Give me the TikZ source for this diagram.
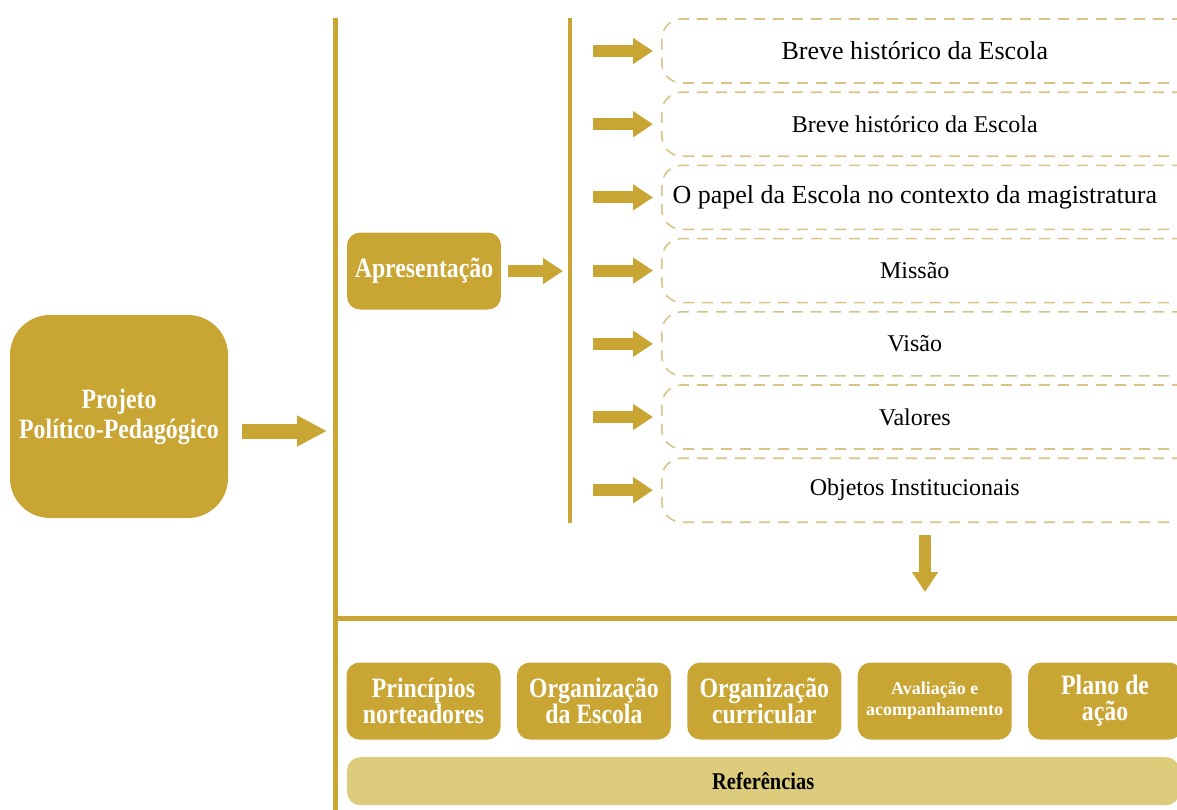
\documentclass[tikz,border=0pt]{standalone}
\usepackage{fontspec}
\setmainfont{Liberation Serif}
\newfontfamily\narrowbf{Liberation Serif}[FakeStretch=0.85]
\usetikzlibrary{arrows.meta,positioning,calc}
\definecolor{gold}{HTML}{C9A634}
\definecolor{lightgold}{HTML}{DDCB7C}
\definecolor{dashgold}{HTML}{D9C387}
\tikzset{
	goldbox/.style={fill=gold, rounded corners=13pt, text=white, align=center, inner sep=0pt,
			font=\narrowbf\bfseries\fontsize{28}{26}\selectfont, minimum width=154pt, minimum height=77pt},
	topic/.style={draw=dashgold, line width=1.6pt, dash pattern=on 11pt off 8pt, rounded corners=20pt,
			minimum width=560pt, minimum height=64pt, anchor=west},
	smallarrow/.style={draw=gold, line width=12pt, -{Triangle[length=20pt, width=25pt]}},
	bigarrow/.style={draw=gold, line width=15pt, -{Triangle[length=30pt, width=29pt]}},
	bar/.style={draw=gold, line width=5pt}
}
\begin{document}
\begin{tikzpicture}[x=1pt, y=-1pt]
	\useasboundingbox (0,0) rectangle (1177,809);
	\clip (0,0) rectangle (1177,809);

	\node[goldbox, minimum width=218pt, minimum height=203pt, rounded corners=40pt, font=\narrowbf\bfseries\fontsize{28}{30}\selectfont] (ppp) at (119,416.5) {Projeto\\Político-Pedagógico};
	\coordinate (l1top) at (335,18);
	\coordinate (l1bot) at (335,812);
	\coordinate (l2top) at (570,18);
	\coordinate (l2bot) at (570,523);
	\draw[bar] (l1top) -- (l1bot);
	\draw[bar, line width=4pt] (l2top) -- (l2bot);

	\coordinate (ppin) at (327,431);
	\draw[bigarrow] ($(ppp.east |- ppin)+(14,0)$) -- (ppin);

	\node[goldbox] (apres) at (424,271) {Apresentação};
	\coordinate (apin) at (563,271);
	\draw[smallarrow] ($(apres.east)+(7,0)$) -- (apin);

	\foreach \s/\t [count=\i] in {26/Breve histórico da Escola, 24/Breve histórico da Escola, 26/O papel da Escola no contexto da magistratura, 24/Missão, 24/Visão, 24/Valores, 24/Objetos Institucionais}{
		\node[topic, label={[font=\fontsize{\s}{\s}\selectfont, xshift=-27pt]center:\t}] (top\i) at (661,{51+73.2*(\i-1)}) {};
		\draw[smallarrow] ($(l2top |- top\i.west)+(23,0)$) -- ($(top\i.west)+(-8,0)$);
	}

	\coordinate (dn) at (925,592);
	\draw[smallarrow] ($(top7.south -| dn)+(0,12)$) -- (dn);
	\coordinate (hl) at (1180,618);
	\draw[bar] (l1top |- hl) -- (hl);

	\node[goldbox] (princ) at (423.5,701) {Princípios\\norteadores};
	\node[goldbox, right=16pt of princ] (orgesc) {Organização\\da Escola};
	\node[goldbox, right=16pt of orgesc] (orgcur) {Organização\\curricular};
	\node[goldbox, right=16pt of orgcur, font=\bfseries\fontsize{18}{21}\selectfont] (aval) {Avaliação e\\acompanhamento};
	\node[goldbox, right=16pt of aval] (plano) {Plano de\\ação};
	\node[goldbox, fill=lightgold, text=black, minimum width=832pt, minimum height=48pt, anchor=north west, font=\narrowbf\bfseries\fontsize{24}{26}\selectfont] (refs) at (347,757) {Referências};
\end{tikzpicture}
\end{document}
